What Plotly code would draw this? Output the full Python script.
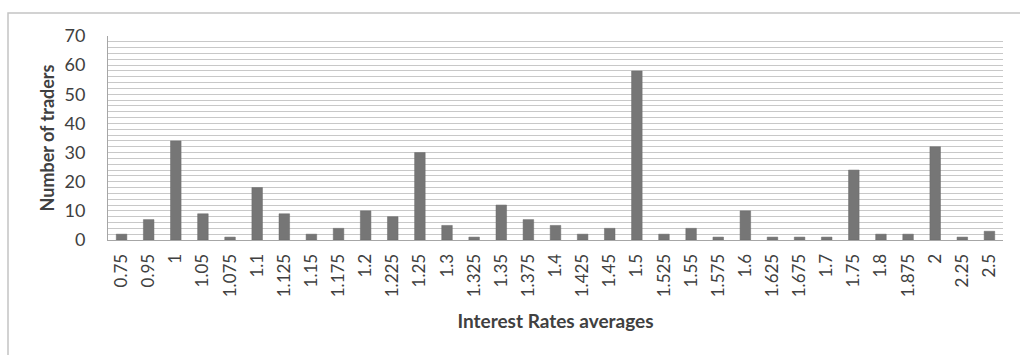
import plotly.graph_objects as go

# Average interest rate buckets and the number of traders in each
rates = ["0.75", "0.95", "1", "1.05", "1.075", "1.1", "1.125", "1.15", "1.175",
         "1.2", "1.225", "1.25", "1.3", "1.325", "1.35", "1.375", "1.4", "1.425",
         "1.45", "1.5", "1.525", "1.55", "1.575", "1.6", "1.625", "1.675", "1.7",
         "1.75", "1.8", "1.875", "2", "2.25", "2.5"]
traders = [2, 7, 34, 9, 1, 18, 9, 2, 4,
           10, 8, 30, 5, 1, 12, 7, 5, 2,
           4, 58, 2, 4, 1, 10, 1, 1, 1,
           24, 2, 2, 32, 1, 3]

W, H = 1020, 355
L, R, T, B = 108, 17, 36, 115
pw, ph = W - L - R, H - T - B

FONT = "Lato, 'Open Sans', sans-serif"
TXT = "#404040"
GRID = "#c8c8c8"

fig = go.Figure(go.Bar(
    x=rates, y=traders,
    marker=dict(color="#767676", line=dict(color="#6a6a6a", width=0.5)),
    width=0.39,
))

fig.update_layout(
    width=W, height=H,
    margin=dict(l=L, r=R, t=T, b=B),
    paper_bgcolor="white", plot_bgcolor="white",
    showlegend=False,
    font=dict(family=FONT, color=TXT),
    xaxis=dict(
        type="category",
        tickangle=-90,
        tickfont=dict(size=17, color=TXT),
        showgrid=False,
        showline=True, linecolor="#a6a6a6", linewidth=1,
        ticks="", ticklen=0, ticklabelstandoff=6,
        title=dict(text="<b>Interest Rates averages</b>",
                   font=dict(size=19, color=TXT), standoff=18),
    ),
    yaxis=dict(
        range=[0, 70], dtick=10,
        tickfont=dict(size=18, color=TXT),
        showgrid=True, gridcolor=GRID, gridwidth=1,
        minor=dict(dtick=2, showgrid=True, gridcolor=GRID, gridwidth=1),
        showline=True, linecolor="#a6a6a6", linewidth=1,
        zeroline=False,
        ticks="", ticklabelstandoff=18,
        title=dict(text="<b>Number of traders</b>",
                   font=dict(size=18, color=TXT), standoff=5),
    ),
)

# Outer chart frame
fig.add_shape(
    type="rect", xref="paper", yref="paper", layer="below",
    x0=(8 - L) / pw, x1=(W + 10 - L) / pw,
    y0=-(H + 10 - (T + ph)) / ph, y1=(T + ph - 13) / ph,
    line=dict(color="#c4c4c4", width=1.5),
)

fig.write_html("out.html")
